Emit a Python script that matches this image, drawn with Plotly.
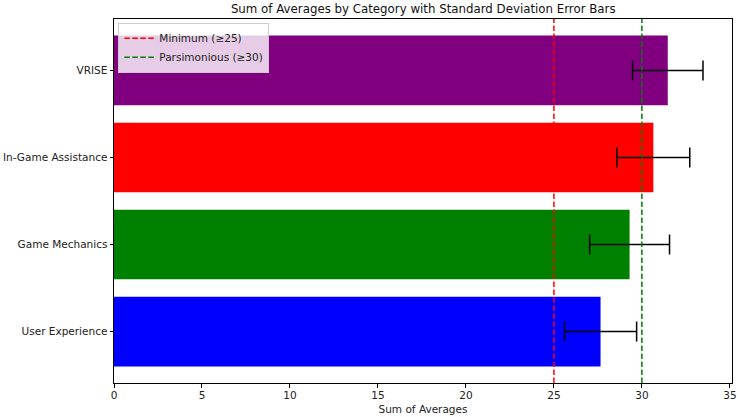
import plotly.graph_objects as go

# data
categories = ["User Experience", "Game Mechanics", "In-Game Assistance", "VRISE"]
sums = [27.65, 29.3, 30.65, 31.47]
stds = [2.05, 2.27, 2.07, 2.0]
colors = ["blue", "green", "red", "purple"]

minimum = 25
parsimonious = 30

fig = go.Figure()

fig.add_trace(go.Bar(
    y=categories, x=sums, orientation="h",
    marker=dict(color=colors, line=dict(width=0)),
    width=0.8,
    error_x=dict(type="data", array=stds, visible=True,
                 color="black", thickness=1.5, width=10),
    showlegend=False,
))

fig.add_shape(type="line", x0=minimum, x1=minimum, yref="paper", y0=0, y1=1,
              line=dict(color="red", width=1.5, dash="5.5px,2.5px"),
              showlegend=True, name="Minimum (≥25)")
fig.add_shape(type="line", x0=parsimonious, x1=parsimonious, yref="paper", y0=0, y1=1,
              line=dict(color="green", width=1.5, dash="5.5px,2.5px"),
              showlegend=True, name="Parsimonious (≥30)")

fig.update_layout(
    width=738, height=417,
    margin=dict(l=114, r=6, t=19, b=34, autoexpand=False),
    plot_bgcolor="white", paper_bgcolor="white",
    font=dict(family="DejaVu Sans", size=10.5, color="#222"),
    title=dict(text="Sum of Averages by Category with Standard Deviation Error Bars",
               x=0.5735, xanchor="center", y=1 - 9 / 417, yanchor="middle",
               font=dict(size=11.8, color="#111")),
    legend=dict(x=0.007, y=0.99, xanchor="left", yanchor="top",
                bgcolor="rgba(255,255,255,0.8)", bordercolor="#cccccc", borderwidth=1,
                font=dict(size=10.5), tracegroupgap=0, itemwidth=30),
)

fig.update_xaxes(
    range=[0, 35.12], tickvals=[0, 5, 10, 15, 20, 25, 30, 35],
    showline=True, linecolor="black", linewidth=1, mirror=True, automargin=False,
    ticks="outside", ticklen=3.5, tickcolor="black", showgrid=False, zeroline=False,
    ticklabelstandoff=-1,
    title=dict(text="Sum of Averages", font=dict(size=10.5), standoff=5),
)
fig.update_yaxes(
    range=[-0.59, 3.59], categoryorder="array", categoryarray=categories,
    showline=True, linecolor="black", linewidth=1, mirror=True, automargin=False,
    ticks="outside", ticklen=3.5, tickcolor="black", showgrid=False,
)

# the page body keeps its default 8px margin otherwise
fig.write_html("out.html", config={"displayModeBar": False},
               post_script="document.body.style.margin = '0px';")
